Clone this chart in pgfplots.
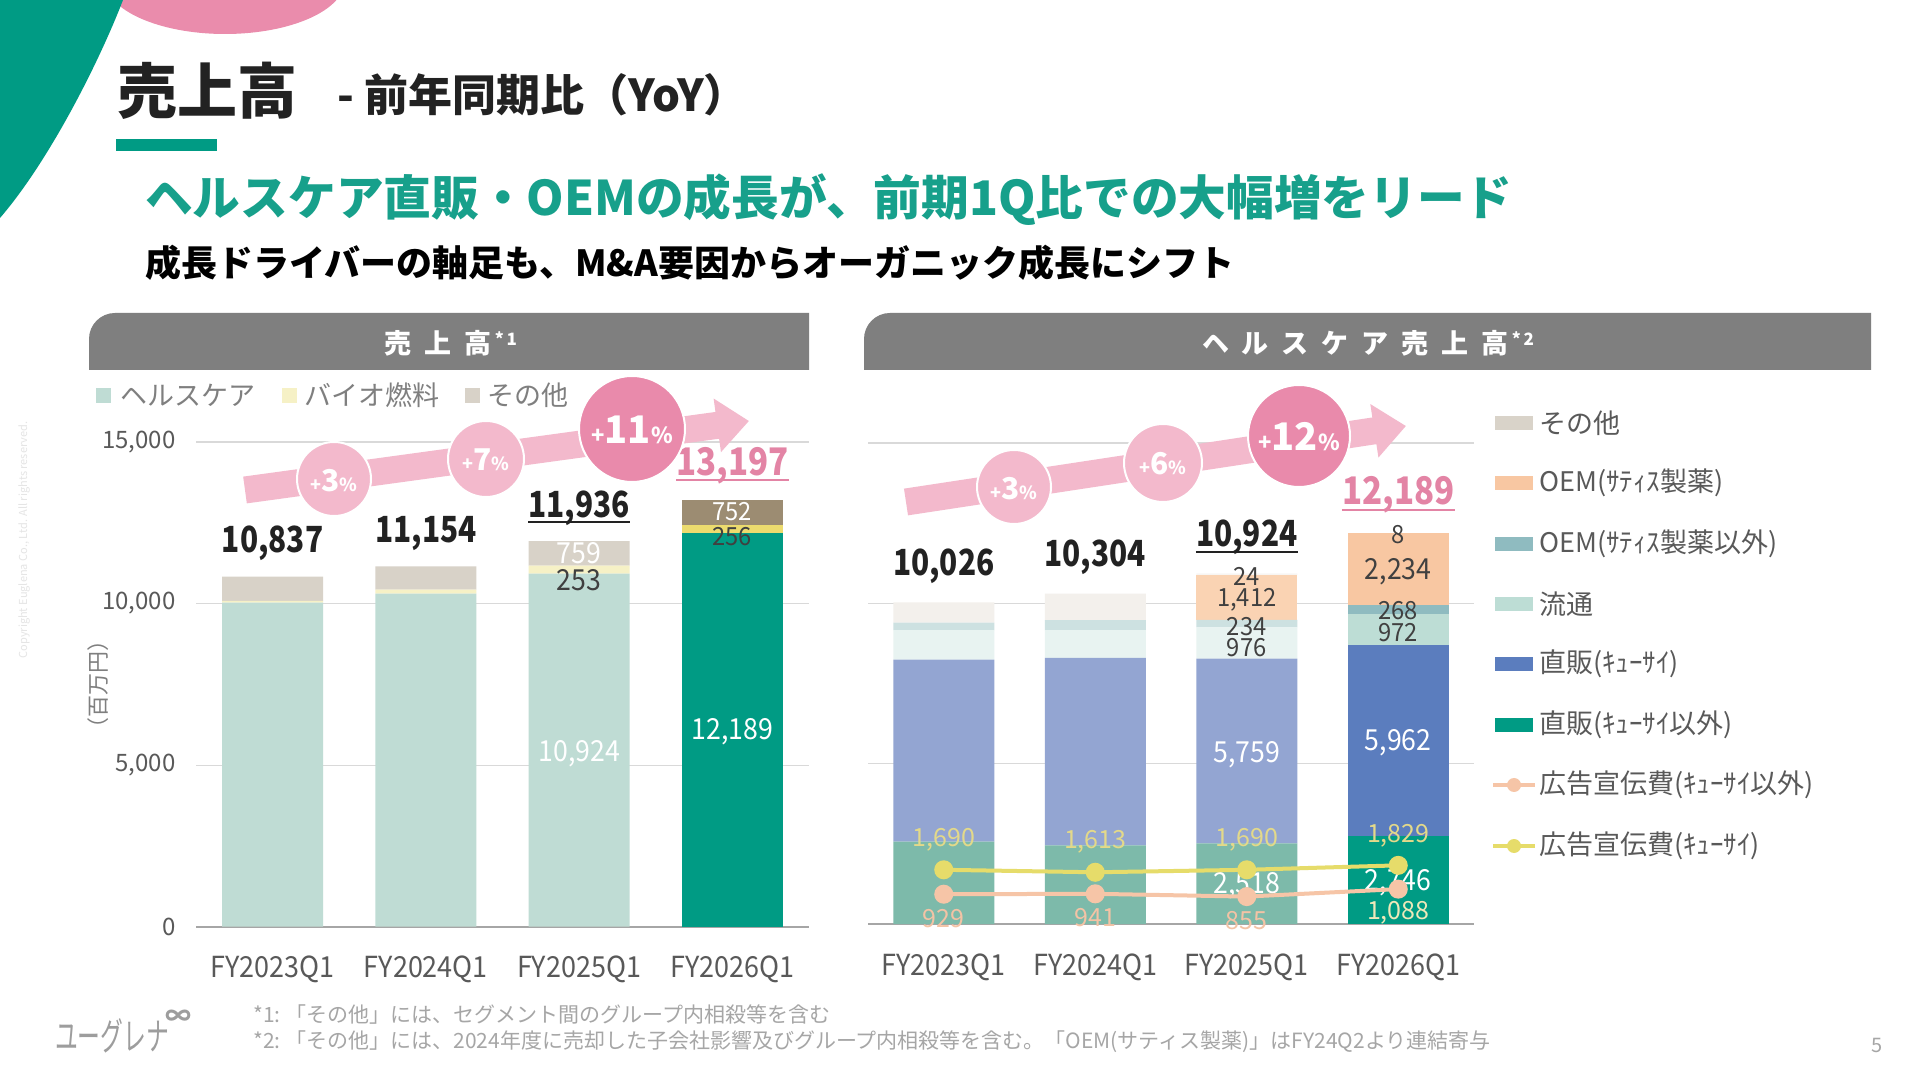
\documentclass[border=0pt]{standalone}
\usepackage{fontspec}
\usepackage{pgfplots}
\usepackage{pgfplotstable}
\pgfplotsset{compat=1.18}
\usetikzlibrary{arrows.meta}
\setmainfont{Noto Sans CJK JP}
\newcommand{\fs}[1]{\fontsize{#1}{#1}\selectfont}
\newcommand{\pct}[3]{{\fs{#2}+}{\fs{#3}#1}{\fs{#2}\%}}
\newcommand{\gap}{\hspace{13pt}}

\definecolor{cTeal}{HTML}{009B84}
\definecolor{cHeadline}{HTML}{17A08B}
\definecolor{cHead}{HTML}{7F7F7F}
\definecolor{cGrid}{HTML}{D9D9D9}
\definecolor{cBase}{HTML}{A6A6A6}
\definecolor{cTick}{HTML}{595959}
\definecolor{cLegL}{HTML}{7F7F7F}
\definecolor{cDark}{HTML}{222222}
\definecolor{cLbl}{HTML}{404040}
\definecolor{cFoot}{HTML}{A6A6A6}
\definecolor{cLogo}{HTML}{9D9D9D}
\definecolor{cPinkL}{HTML}{F3B9CC}
\definecolor{cPinkD}{HTML}{E98AAB}
\definecolor{cPinkT}{HTML}{E384A5}
\definecolor{cDeco}{HTML}{EA8CAC}
% consolidated sales
\definecolor{hcA}{HTML}{BFDCD4}
\definecolor{hcB}{HTML}{009B84}
\definecolor{bioA}{HTML}{F6F1C6}
\definecolor{bioB}{HTML}{ECDB6E}
\definecolor{othA}{HTML}{D8D2C8}
\definecolor{othB}{HTML}{9C8C72}
% healthcare sales
\definecolor{dtA}{HTML}{7DBAAA}
\definecolor{dtB}{HTML}{009B84}
\definecolor{dkA}{HTML}{93A5D2}
\definecolor{dkB}{HTML}{5B7DBE}
\definecolor{ryA}{HTML}{E8F3F1}
\definecolor{ryB}{HTML}{BDDDD5}
\definecolor{oeA}{HTML}{CDE1E1}
\definecolor{oeB}{HTML}{8FBBC0}
\definecolor{osA}{HTML}{FAD3B3}
\definecolor{osB}{HTML}{F8C7A2}
\definecolor{otA}{HTML}{F3F0EC}
\definecolor{otB}{HTML}{D9D3C9}
\definecolor{adY}{HTML}{E6DC6A}
\definecolor{adP}{HTML}{F6C5A7}
\definecolor{adYt}{HTML}{E3D98A}
\definecolor{adPt}{HTML}{F3C3A5}

% sales by segment (A = earlier years, B = latest quarter)
\pgfplotstableread{
x  hcA   hcB   bioA bioB othA othB
0  10026 0     55   0    756  0
1  10304 0     124  0    726  0
2  10924 0     253  0    759  0
3  0     12189 0    256  0    752
}\salestable

% healthcare sales by channel
\pgfplotstableread{
x  dtA  dtB  dkA  dkB  ryA ryB oeA oeB osA  osB  otA otB
0  2570 0    5675 0    918 0   232 0   0    0    631 0
1  2455 0    5843 0    865 0   314 0   0    0    827 0
2  2518 0    5759 0    976 0   234 0   1412 0    24  0
3  0    2746 0    5962 0   972 0   268 0    2234 0   8
}\hctable

% advertising expenses
\pgfplotstableread{
x  kyu  other
0  1690 929
1  1613 941
2  1690 855
3  1829 1088
}\adtable

\pgfplotsset{
  chart base/.style={
    anchor=south west, scale only axis, clip=false,
    xmin=-0.5, xmax=3.5, ymin=0, ymax=15000,
    axis x line*=bottom, axis y line*=left,
    y axis line style={draw=none},
    x axis line style={-, draw=cBase, line width=1.6pt},
    major tick length=0pt,
    xtick={0,1,2,3},
    xticklabels={FY2023Q1,FY2024Q1,FY2025Q1,FY2026Q1},
    ytick={0,5000,10000,15000},
    scaled y ticks=false,
    ymajorgrids,
    grid style={draw=cGrid, line width=1.2pt},
    xticklabel style={font=\fs{29}, text=cTick, anchor=base, yshift=-51pt, xscale=0.93},
    yticklabel style={font=\fs{24}, text=cTick, xshift=-17pt},
    /pgf/number format/1000 sep={,},
    /pgf/number format/assume math mode=true,
  },
  overlay axis/.style={
    anchor=south west, scale only axis, clip=false,
    xmin=-0.5, xmax=3.5, ymin=0, ymax=15000, hide axis,
  },
  seg/.style={fill=#1, draw=none},
}
\tikzset{
  lblW/.style={font=\fs{29}, text=white, inner sep=0pt, xscale=0.92},
  lblD/.style={font=\fs{29}, text=cLbl, inner sep=0pt, xscale=0.92},
  lblS/.style={font=\fs{25}, text=cLbl, inner sep=0pt, xscale=0.95},
  tot/.style={font=\bfseries\fs{36}, text=cDark, inner sep=0pt, xscale=0.83},
  totP/.style={font=\bfseries\fs{38}, text=cPinkT, inner sep=0pt, xscale=0.87},
  adlY/.style={font=\fs{25}, text=adYt, inner sep=0pt, yshift=30pt},
  adlP/.style={font=\fs{25}, text=adPt, inner sep=0pt, yshift=-24pt},
}

\begin{document}
\begin{tikzpicture}
\begin{scope}[x=1pt,y=1pt]
  \useasboundingbox (0,0) rectangle (1920,1080);
  \fill[white] (0,0) rectangle (1920,1080);
  \begin{scope}
    \clip (0,0) rectangle (1920,1080);
    \fill[cDeco] (225,1100) ellipse [x radius=120, y radius=54];
    \fill[cTeal] (0,1080) -- (123,1080) .. controls (100,1020) and (50,920) .. (0,862) -- cycle;
  \end{scope}
  % page title
  \node[anchor=west, inner sep=0, font=\bfseries\fs{60}, text=cDark] at (117,989) {売上高};
  \node[anchor=west, inner sep=0, font=\bfseries\fs{44}, text=cDark] at (337,985) {- 前年同期比（YoY）};
  \fill[cTeal] (116,929) rectangle (217,941);
  \node[anchor=west, inner sep=0, font=\bfseries\fs{47.7}, text=cHeadline] at (145,880) {ヘルスケア直販・OEMの成長が、前期1Q比での大幅増をリード};
  \node[anchor=west, inner sep=0, font=\bfseries\fs{36}, text=black] at (145,817) {成長ドライバーの軸足も、M\&A要因からオーガニック成長にシフト};
  % panel headers
  \fill[cHead] (809,710) -- (89,710) -- (89,741) arc[start angle=180, end angle=90, radius=26] -- (809,767) -- cycle;
  \fill[cHead] (1871,710) -- (864,710) -- (864,741) arc[start angle=180, end angle=90, radius=26] -- (1871,767) -- cycle;
  \node[text=white, font=\bfseries\fs{27}] at (451,737) {売\gap 上\gap 高\raisebox{8pt}{\fs{17}\,*\,1}};
  \node[text=white, font=\bfseries\fs{27}] at (1368,737) {ヘ\gap ル\gap ス\gap ケ\gap ア\gap 売\gap 上\gap 高\raisebox{8pt}{\fs{17}\,*\,2}};
  % left legend
  \fill[hcA] (96,677) rectangle (111,692);
  \node[anchor=west, inner sep=0, font=\fs{27}, text=cLegL] at (120,685) {ヘルスケア};
  \fill[bioA] (282,677) rectangle (297,692);
  \node[anchor=west, inner sep=0, font=\fs{27}, text=cLegL] at (304,685) {バイオ燃料};
  \fill[othA] (465,677) rectangle (480,692);
  \node[anchor=west, inner sep=0, font=\fs{27}, text=cLegL] at (487,685) {その他};
  % unit
  \node[rotate=90, font=\fs{22}, text=cLegL] at (98,395) {（百万円）};
  % right legend
  \fill[otB] (1495,650) rectangle (1533,664);
  \node[anchor=west, inner sep=0, font=\fs{27}, text=cTick] at (1539,657) {その他};
  \fill[osB] (1495,590) rectangle (1533,604);
  \node[anchor=west, inner sep=0, font=\fs{27}, text=cTick] at (1539,597) {OEM(ｻﾃｨｽ製薬)};
  \fill[oeB] (1495,529) rectangle (1533,543);
  \node[anchor=west, inner sep=0, font=\fs{27}, text=cTick] at (1539,536) {OEM(ｻﾃｨｽ製薬以外)};
  \fill[ryB] (1495,469) rectangle (1533,483);
  \node[anchor=west, inner sep=0, font=\fs{27}, text=cTick] at (1539,476) {流通};
  \fill[dkB] (1495,409) rectangle (1533,423);
  \node[anchor=west, inner sep=0, font=\fs{27}, text=cTick] at (1539,416) {直販(ｷｭｰｻｲ)};
  \fill[dtB] (1495,348) rectangle (1533,362);
  \node[anchor=west, inner sep=0, font=\fs{27}, text=cTick] at (1539,355) {直販(ｷｭｰｻｲ以外)};
  \draw[adP, line width=4pt] (1493,295) -- (1535,295);
  \fill[adP] (1514,295) circle[radius=7];
  \node[anchor=west, inner sep=0, font=\fs{27}, text=cTick] at (1539,295) {広告宣伝費(ｷｭｰｻｲ以外)};
  \draw[adY, line width=4pt] (1493,234) -- (1535,234);
  \fill[adY] (1514,234) circle[radius=7];
  \node[anchor=west, inner sep=0, font=\fs{27}, text=cTick] at (1539,234) {広告宣伝費(ｷｭｰｻｲ)};
  % footer
  \node[anchor=west, inner sep=0, font=\fs{21}, text=cFoot] at (253,65) {*1:\hspace{5pt}「その他」には、セグメント間のグループ内相殺等を含む};
  \node[anchor=west, inner sep=0, font=\fs{21}, text=cFoot] at (253,38) {*2:\hspace{5pt}「その他」には、2024年度に売却した子会社影響及びグループ内相殺等を含む。「OEM(サティス製薬)」はFY24Q2より連結寄与};
  \node[anchor=west, inner sep=0, font=\fs{38}, text=cLogo, xscale=0.6] at (55,44) {ユーグレナ};
  \node[font=\bfseries\fs{26}, text=cLogo] at (178,62) {∞};
  \node[font=\fs{20}, text=cFoot] at (1877,35) {5};
  \node[rotate=90, font=\fs{11}, text=black!10] at (24,540) {Copyright Euglena Co., Ltd. All rights reserved.};
\end{scope}

% consolidated sales
\begin{axis}[chart base, at={(196pt,153.3pt)}, width=613pt, height=484.7pt,
  ybar stacked, bar width=101pt]
  \addplot[seg=hcA] table[x=x,y=hcA]{\salestable};
  \addplot[seg=hcB] table[x=x,y=hcB]{\salestable};
  \addplot[seg=bioA] table[x=x,y=bioA]{\salestable};
  \addplot[seg=bioB] table[x=x,y=bioB]{\salestable};
  \addplot[seg=othA] table[x=x,y=othA]{\salestable};
  \addplot[seg=othB] table[x=x,y=othB]{\salestable};
\end{axis}
% value labels for consolidated sales
\begin{axis}[overlay axis, at={(196pt,153.3pt)}, width=613pt, height=484.7pt]
  \node[lblW] at (axis cs:2,5341) {10,924};
  \node[lblD] at (axis cs:2,10728) {253};
  \node[lblW] at (axis cs:2,11563) {759};
  \node[lblW] at (axis cs:3,6022) {12,189};
  \node[lblS] at (axis cs:3,12060) {256};
  \node[lblS, text=white] at (axis cs:3,12835) {752};
  \node[tot, yshift=33pt] at (axis cs:0,10837) {10,837};
  \node[tot, yshift=33pt] at (axis cs:1,11154) {11,154};
  \node[tot, yshift=33pt] (lt2) at (axis cs:2,11936) {11,936};
  \node[totP, yshift=35pt] (lt3) at (axis cs:3,13197) {13,197};
\end{axis}
\draw[cDark, line width=2.5pt] ([yshift=-5pt]lt2.base west) -- ([yshift=-5pt]lt2.base east);
\draw[cPinkT, line width=2.5pt] ([yshift=-5pt]lt3.base west) -- ([yshift=-5pt]lt3.base east);

% healthcare sales
\begin{axis}[chart base, at={(868pt,156pt)}, width=606pt, height=481pt,
  ybar stacked, bar width=101pt, yticklabels={}]
  \addplot[seg=dtA] table[x=x,y=dtA]{\hctable};
  \addplot[seg=dtB] table[x=x,y=dtB]{\hctable};
  \addplot[seg=dkA] table[x=x,y=dkA]{\hctable};
  \addplot[seg=dkB] table[x=x,y=dkB]{\hctable};
  \addplot[seg=ryA] table[x=x,y=ryA]{\hctable};
  \addplot[seg=ryB] table[x=x,y=ryB]{\hctable};
  \addplot[seg=oeA] table[x=x,y=oeA]{\hctable};
  \addplot[seg=oeB] table[x=x,y=oeB]{\hctable};
  \addplot[seg=osA] table[x=x,y=osA]{\hctable};
  \addplot[seg=osB] table[x=x,y=osB]{\hctable};
  \addplot[seg=otA] table[x=x,y=otA]{\hctable};
  \addplot[seg=otB] table[x=x,y=otB]{\hctable};
\end{axis}

% advertising expenses on the same scale, with value labels
\begin{axis}[overlay axis, at={(868pt,156pt)}, width=606pt, height=481pt]
  \node[lblW] at (axis cs:2,1185) {2,518};
  \node[lblW] at (axis cs:2,5270) {5,759};
  \node[lblS] at (axis cs:2,8620) {976};
  \node[lblS] at (axis cs:2,9290) {234};
  \node[lblS] at (axis cs:2,10104) {1,412};
  \node[lblS] at (axis cs:2,10850) {24};
  \node[lblW] at (axis cs:3,1278) {2,746};
  \node[lblW] at (axis cs:3,5644) {5,962};
  \node[lblS] at (axis cs:3,9080) {972};
  \node[lblS] at (axis cs:3,9760) {268};
  \node[lblD] at (axis cs:3,10976) {2,234};
  \node[lblS] at (axis cs:3,12130) {8};
  \node[tot, yshift=36pt] at (axis cs:0,10026) {10,026};
  \node[tot, yshift=36pt] at (axis cs:1,10304) {10,304};
  \node[tot, yshift=36pt] (rt2) at (axis cs:2,10924) {10,924};
  \node[totP, yshift=38pt] (rt3) at (axis cs:3,12189) {12,189};
  \addplot[adP, line width=4pt, mark=*, mark size=7.5pt, mark options={draw=none, fill=adP}] table[x=x,y=other]{\adtable};
  \addplot[adY, line width=4pt, mark=*, mark size=7.5pt, mark options={draw=none, fill=adY}] table[x=x,y=kyu]{\adtable};
  \node[adlY] at (axis cs:0,1690) {1,690};
  \node[adlY] at (axis cs:1,1613) {1,613};
  \node[adlY] at (axis cs:2,1690) {1,690};
  \node[adlY] at (axis cs:3,1829) {1,829};
  \node[adlP] at (axis cs:0,929) {929};
  \node[adlP] at (axis cs:1,941) {941};
  \node[adlP] at (axis cs:2,855) {855};
  \node[adlP, text=adYt!60!white] at (axis cs:3,1088) {1,088};
\end{axis}
\draw[cDark, line width=2.5pt] ([yshift=-5pt]rt2.base west) -- ([yshift=-5pt]rt2.base east);
\draw[cPinkT, line width=2.5pt] ([yshift=-5pt]rt3.base west) -- ([yshift=-5pt]rt3.base east);

% growth arrows
\begin{scope}[x=1pt,y=1pt]
  \draw[cPinkL, line width=27pt, -{Triangle[width=52pt,length=32pt]}] (245,590) -- (749,659);
  \fill[cPinkL, draw=white, line width=2pt] (334,601) circle[radius=37];
  \fill[cPinkL, draw=white, line width=2pt] (486,621) circle[radius=38];
  \fill[cPinkD, draw=white, line width=2pt] (632,651) circle[radius=53];
  \node[text=white, font=\bfseries] at (334,599) {\pct{3}{18}{30}};
  \node[text=white, font=\bfseries] at (486,620) {\pct{7}{18}{30}};
  \node[text=white, font=\bfseries] at (632,650) {\pct{11}{22}{38}};
  \draw[cPinkL, line width=27pt, -{Triangle[width=52pt,length=32pt]}] (906,578) -- (1406,654);
  \fill[cPinkL, draw=white, line width=2pt] (1014,593) circle[radius=37];
  \fill[cPinkL, draw=white, line width=2pt] (1163,617) circle[radius=39];
  \fill[cPinkD, draw=white, line width=2pt] (1299,644) circle[radius=51];
  \node[text=white, font=\bfseries] at (1014,591) {\pct{3}{18}{30}};
  \node[text=white, font=\bfseries] at (1163,616) {\pct{6}{18}{30}};
  \node[text=white, font=\bfseries] at (1299,643) {\pct{12}{22}{38}};
\end{scope}
\end{tikzpicture}
\end{document}
